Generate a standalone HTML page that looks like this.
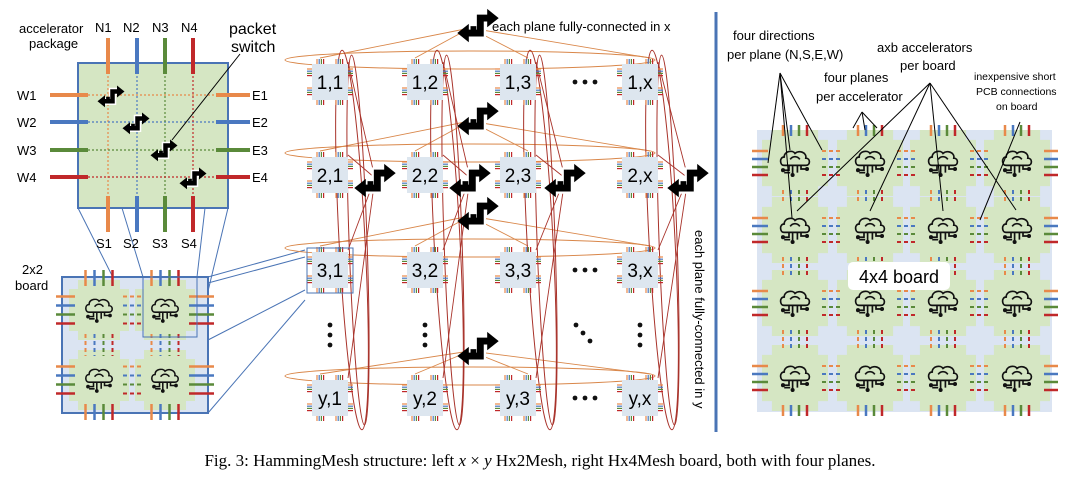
<!DOCTYPE html>
<html><head><meta charset="utf-8"><style>
html,body{margin:0;padding:0;background:#fff;}
svg{display:block;}
text{font-family:"Liberation Sans",sans-serif;}
</style></head><body>
<svg id="s" width="1080" height="484" viewBox="0 0 1080 484" xmlns="http://www.w3.org/2000/svg">
<defs>
<g id="sw">
 <path d="M-10,7 H2 V-6 H10" fill="none" stroke="#fff" stroke-width="10"/>
 <path d="M-10,7 H2 V-6 H10" fill="none" stroke="#000" stroke-width="6"/>
 <path d="M8,-14 L18,-6 L8,2 Z" fill="#000"/>
 <path d="M-8,-1 L-18,7 L-8,15 Z" fill="#000"/>
 <path d="M-4,1 V10" stroke="#000" stroke-width="5"/>
</g>
<g id="brain" fill="none" stroke="#111" stroke-width="1.4">
 <path d="M-9,2 C-13,2 -13,-5 -9,-5 C-9,-10 -2,-11 0,-8 C3,-11 10,-9 9,-4 C13,-4 13,2 9,2 Z"/>
 <path d="M-4,-3 C-2,-6 2,-6 4,-3"/>
 <path d="M-5,2 V6 H-10 M-2,2 V10 M2,2 V8 M5,2 V5 H10 M-9,8 H-4"/>
 <circle cx="-10" cy="6" r="1" fill="#111"/><circle cx="10" cy="5" r="1" fill="#111"/><circle cx="-2" cy="10" r="1" fill="#111"/>
</g>
</defs>
<g id="root"></g>
<g font-size="13">
<text x="19" y="33">accelerator</text>
<text x="29" y="48">package</text>
<text x="95" y="32">N1</text><text x="123" y="32">N2</text><text x="152" y="32">N3</text><text x="181" y="32">N4</text>
<text x="17" y="100">W1</text><text x="17" y="127">W2</text><text x="17" y="155">W3</text><text x="17" y="182">W4</text>
<text x="252" y="100">E1</text><text x="252" y="127">E2</text><text x="252" y="155">E3</text><text x="252" y="182">E4</text>
<text x="96" y="248">S1</text><text x="123" y="248">S2</text><text x="152" y="248">S3</text><text x="181" y="248">S4</text>
<text x="22" y="274">2x2</text><text x="15" y="290">board</text>
<text x="492" y="31">each plane fully-connected in x</text>
<text transform="translate(695,230) rotate(90)">each plane fully-connected in y</text>
<text x="733" y="40">four directions</text>
<text x="727" y="59">per plane (N,S,E,W)</text>
<text x="877" y="52">axb accelerators</text>
<text x="900" y="70">per board</text>
<text x="824" y="82">four planes</text>
<text x="816" y="101">per accelerator</text>
</g>
<text x="229" y="34" font-size="16">packet</text><text x="231" y="52" font-size="16">switch</text>
<line x1="716" y1="12" x2="716" y2="432" stroke="#4a74b5" stroke-width="3"/>
<g font-size="10.5">
<text x="974" y="80">inexpensive  short</text>
<text x="976" y="95">PCB connections</text>
<text x="996" y="110">on board</text>
</g>
<text x="540" y="466" font-size="17" text-anchor="middle" style="font-family:'Liberation Serif',serif">Fig. 3: HammingMesh structure: left <tspan font-style="italic">x</tspan> × <tspan font-style="italic">y</tspan> Hx2Mesh, right Hx4Mesh board, both with four planes.</text>
</svg>
<script>
const NS="http://www.w3.org/2000/svg";
const root=document.getElementById('root');
const C=['#e8894a','#4a78c0','#5a8a3a','#c0282a'];
function el(t,a,p){const e=document.createElementNS(NS,t);for(const k in a)e.setAttribute(k,a[k]);(p||root).appendChild(e);return e;}
function ln(x1,y1,x2,y2,c,w,d){return el('line',{x1,y1,x2,y2,stroke:c,'stroke-width':w||1,'stroke-dasharray':d||''});}
function use(id,x,y,s){return el('use',{href:'#'+id,transform:`translate(${x},${y}) scale(${s||1})`});}
el('rect',{x:78,y:63,width:150,height:145,fill:'#d5e6c3',stroke:'#4a74b5','stroke-width':2});
const nx=[108,137,165,193], wy=[95,122,150,177];
for(let i=0;i<4;i++){
 ln(nx[i],72,nx[i],198,C[i],1.2,'2 2');
 ln(88,wy[i],218,wy[i],C[i],1.2,'2 2');
 ln(nx[i],38,nx[i],74,C[i],4); ln(nx[i],196,nx[i],232,C[i],4);
 ln(50,wy[i],88,wy[i],C[i],4); ln(216,wy[i],250,wy[i],C[i],4);
}
use('sw',111,96,0.75);use('sw',136,123,0.75);use('sw',164,150,0.75);use('sw',193,178,0.75);
ln(240,54,172,140,'#000',1);
ln(78,208,143,337,'#4a74b5',1);ln(122,208,143,277,'#4a74b5',1);ln(205,208,197,277,'#4a74b5',1);ln(228,208,197,337,'#4a74b5',1);
[[208,277,305,250],[208,283,305,257],[208,340,305,290],[208,413,305,300]].forEach(a=>ln(...a,'#4a74b5',1));
el('rect',{x:62,y:277,width:146,height:136,fill:'#dbe4f2',stroke:'#4a74b5','stroke-width':2});
function accel(cx,cy,r){
 const a=r, b=r*0.7;
 el('path',{d:`M${cx-b},${cy-a}H${cx+b}V${cy-b}H${cx+a}V${cy+b}H${cx+b}V${cy+a}H${cx-b}V${cy+b}H${cx-a}V${cy-b}H${cx-b}Z`,fill:'#d5e6c3'});
}
function board(xs,ys,r,sp,x0,x1,y0,y1,bs){
 xs.forEach(cx=>ys.forEach(cy=>accel(cx,cy,r)));
 xs.forEach((cx,ci)=>{
  ys.forEach((cy,ri)=>{
   for(let i=0;i<4;i++){
    const x=cx-1.5*sp+i*sp, y=cy-1.5*sp+i*sp;
    if(ri==0) ln(x,y0,x,cy-r+6,C[i],2.5);
    if(ri==ys.length-1) ln(x,cy+r-6,x,y1,C[i],2.5);
    if(ci==0) ln(x0,y,cx-r+6,y,C[i],2.5);
    if(ci==xs.length-1) ln(cx+r-6,y,x1,y,C[i],2.5);
    if(ri<ys.length-1) ln(x,cy+r-6,x,ys[ri+1]-r+6,C[i],2,'4 3');
    if(ci<xs.length-1) ln(cx+r-6,y,xs[ci+1]-r+6,y,C[i],2,'4 3');
   }
   use('brain',cx,cy,bs);
  });
 });
}
board([99,165],[310,380],30,9,56,214,270,420,1.1);
el('rect',{x:143,y:277,width:54,height:60,fill:'none',stroke:'#4a74b5','stroke-width':1});
const mx=[330,425,518,640], my=[82,175,270,398];
const lab=[['1,1','1,2','1,3','1,x'],['2,1','2,2','2,3','2,x'],['3,1','3,2','3,3','3,x'],['y,1','y,2','y,3','y,x']];
const swy=[22,115,210,345];
my.forEach((y,ri)=>{
 const sy=swy[ri];
 el('ellipse',{cx:470,cy:y-22,rx:185,ry:9,fill:'none',stroke:'#d9874a','stroke-width':1});
 mx.forEach(x=>{ln(470,sy+6,x+(x<478?-10:10),y-24,'#d9874a',0.9);});
});
const rsx=[375,470,565,688];
mx.forEach((x,ci)=>{
 el('ellipse',{cx:x+22,cy:240,rx:13,ry:190,fill:'none',stroke:'#a8322a','stroke-width':1,transform:`rotate(-3 ${x+22} 240)`});
 el('ellipse',{cx:x+28,cy:240,rx:9,ry:185,fill:'none',stroke:'#a8322a','stroke-width':1,transform:`rotate(-2 ${x+28} 240)`});
 my.forEach(y=>{ln(rsx[ci],178,x+18,y-20,'#a8322a',0.9);});
});
function chip(cx,cy,t){
 el('rect',{x:cx-18,y:cy-18,width:36,height:36,fill:'#dde6ef'});
 for(let k=0;k<2;k++)for(let i=0;i<4;i++){
  const o=(k?6:-13)+i*2.2;
  ln(cx+o,cy-23,cx+o,cy-18,C[i],1.2);ln(cx+o,cy+18,cx+o,cy+23,C[i],1.2);
  ln(cx-23,cy+o,cx-18,cy+o,C[i],1.2);ln(cx+18,cy+o,cx+23,cy+o,C[i],1.2);
 }
 const tx=el('text',{x:cx,y:cy+7,'font-size':19,'text-anchor':'middle'});tx.textContent=t;
}
my.forEach((y,ri)=>mx.forEach((x,ci)=>chip(x,y,lab[ri][ci])));
el('rect',{x:307,y:248,width:46,height:45,fill:'none',stroke:'#4a74b5','stroke-width':1});
[82,270,398].forEach(y=>{[575,585,595].forEach(x=>el('circle',{cx:x,cy:y,r:2.4,fill:'#111'}));});
[330,425,518,640].forEach((x,i)=>{if(i==2)return;[325,335,345].forEach(y=>el('circle',{cx:x,cy:y,r:2.4,fill:'#111'}));});
[[576,325],[583,333],[590,341]].forEach(p=>el('circle',{cx:p[0],cy:p[1],r:2.4,fill:'#111'}));
swy.forEach(y=>use('sw',478,y+3,1.15));
rsx.forEach(x=>use('sw',x,180,1.15));
el('rect',{x:757,y:130,width:295,height:282,fill:'#dbe4f2'});
board([795,870,943,1017],[163,230,303,378],33,8,752,1058,125,416,1.2);
el('rect',{x:848,y:262,width:102,height:28,rx:5,fill:'#fff'});
const t4=el('text',{x:899,y:283,'font-size':18,'text-anchor':'middle'});t4.textContent='4x4 board';
[[780,73,768,163],[780,73,792,218],[780,73,822,150],[780,73,790,150]].forEach(a=>ln(...a,'#000',1));
[[862,112,853,128],[862,112,865,130],[862,112,877,128]].forEach(a=>ln(...a,'#000',1));
[[930,83,797,211],[930,83,870,211],[930,83,943,211],[930,83,1016,210]].forEach(a=>ln(...a,'#000',1));
ln(1020,122,980,220,'#000',1);
</script>
</body></html>
